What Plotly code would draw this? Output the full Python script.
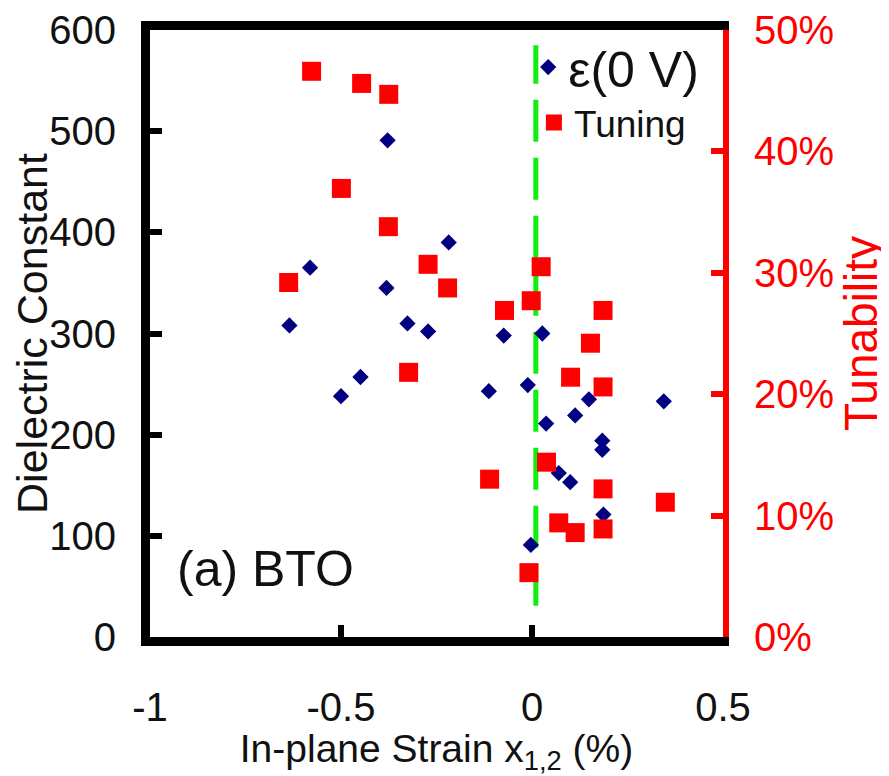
import plotly.graph_objects as go

# ---- data ----
eps_strain = [-0.378, -0.581, -0.381, -0.635, -0.326, -0.272, -0.218, -0.449, -0.500,
              -0.074, 0.027, -0.113, -0.011, 0.037, 0.149, 0.113, 0.345, 0.184, 0.184,
              0.070, 0.100, 0.187, -0.003]
eps_value = [491, 365, 345, 308, 310, 302, 390, 257, 238,
             298, 300, 243, 249, 211, 235, 219, 233, 194, 185,
             162, 153, 121, 91]

tun_strain = [-0.577, -0.446, -0.375, -0.499, -0.376, -0.272, -0.637, -0.221, -0.072,
              -0.002, 0.024, 0.186, 0.153, -0.323, 0.101, 0.186, -0.111, 0.038, 0.186,
              0.349, 0.070, 0.113, 0.186, -0.008]
tun_percent = [46.6, 45.6, 44.7, 36.95, 33.8, 30.7, 29.2, 28.75, 26.9,
               27.7, 30.5, 26.9, 24.2, 21.8, 21.4, 20.6, 13.0, 14.4, 12.2,
               11.1, 9.4, 8.6, 8.9, 5.3]

x_ticks = [-1, -0.5, 0, 0.5]
x_ticktext = ["-1", "-0.5", "0", "0.5"]
y_ticks = [0, 100, 200, 300, 400, 500, 600]
y2_ticks = [0, 10, 20, 30, 40, 50]
y2_ticktext = ["0%", "10%", "20%", "30%", "40%", "50%"]

divider_x = 0.01
divider_y = [31, 585]

FONT = "Liberation Sans, Arial, Helvetica, sans-serif"
TXT = "#111111"

fig = go.Figure()
fig.add_trace(go.Scatter(
    x=eps_strain, y=eps_value, mode="markers", name="ε(0 V)", showlegend=True,
    marker=dict(symbol="diamond", size=12.5, color="#000080", line=dict(width=0)),
    legend="legend", yaxis="y"))
fig.add_trace(go.Scatter(
    x=tun_strain, y=tun_percent, mode="markers", name="Tuning", showlegend=True,
    marker=dict(symbol="square", size=19, color="#ff0000", line=dict(width=0)),
    legend="legend2", yaxis="y2"))

fig.add_shape(type="line", xref="x", yref="y", x0=divider_x, x1=divider_x,
              y0=divider_y[0], y1=divider_y[1],
              line=dict(color="#11ee11", width=5, dash="42px,16px"), layer="below")

fig.add_annotation(text="(a) BTO", xref="x", yref="y", x=-0.935, y=67,
                   xanchor="left", yanchor="middle", showarrow=False,
                   font=dict(family=FONT, size=50, color=TXT))

fig.update_layout(
    width=881, height=768,
    margin=dict(l=142, r=166, t=22, b=139, autoexpand=False),
    paper_bgcolor="white", plot_bgcolor="white",
    font=dict(family=FONT, color=TXT),
    showlegend=True,
    xaxis=dict(range=[-1, 0.5], tickvals=x_ticks, ticktext=x_ticktext,
               showline=True, linecolor="black", linewidth=9, mirror=True,
               ticks="inside", ticklen=12, tickwidth=6, tickcolor="black",
               showgrid=False, zeroline=False, ticklabelstandoff=27,
               automargin=False, ticklabeloverflow="allow",
               tickfont=dict(family=FONT, size=40, color=TXT),
               title=dict(text="In-plane Strain x<sub>1,2</sub> (%)",
                          font=dict(family=FONT, size=39, color=TXT), standoff=16)),
    yaxis=dict(range=[0, 600], tickvals=y_ticks,
               showline=True, linecolor="black", linewidth=9,
               ticks="inside", ticklen=12, tickwidth=6, tickcolor="black",
               showgrid=False, zeroline=False, ticklabelstandoff=17,
               automargin=False, ticklabeloverflow="allow",
               tickfont=dict(family=FONT, size=40, color=TXT),
               title=dict(text="Dielectric Constant",
                          font=dict(family=FONT, size=43, color=TXT), standoff=9)),
    yaxis2=dict(range=[0, 50], tickvals=y2_ticks, ticktext=y2_ticktext,
                overlaying="y", side="right",
                showline=True, linecolor="#ff0000", linewidth=6,
                ticks="inside", ticklen=12, tickwidth=6, tickcolor="#ff0000",
                showgrid=False, zeroline=False, ticklabelstandoff=17,
                automargin=False, ticklabeloverflow="allow",
                tickfont=dict(family=FONT, size=40, color="#ff0000"),
                title=dict(text="Tunability",
                           font=dict(family=FONT, size=46, color="#ff0000"), standoff=14)),
    legend=dict(x=0.660, y=0.939, xanchor="left", yanchor="middle",
                bgcolor="rgba(0,0,0,0)", borderwidth=0,
                font=dict(family=FONT, size=50, color=TXT)),
    legend2=dict(x=0.670, y=0.847, xanchor="left", yanchor="middle",
                 bgcolor="rgba(0,0,0,0)", borderwidth=0,
                 font=dict(family=FONT, size=37, color=TXT)),
)

fig.write_html("out.html")
